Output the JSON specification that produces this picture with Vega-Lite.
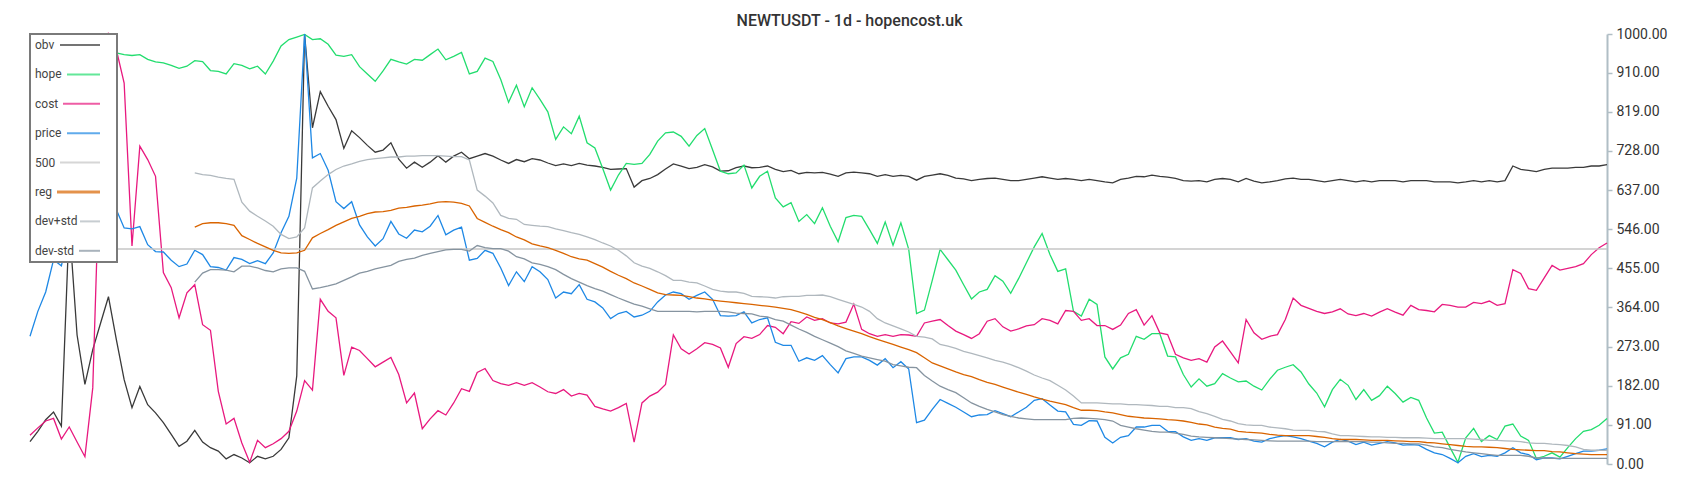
{
"$schema":"https://vega.github.io/schema/vega-lite/v6.json",
"width":1577,"height":430,
"autosize":{"type":"none"},
"padding":{"left":30,"top":34,"right":93,"bottom":36},
"background":"white",
"title":{"text":"NEWTUSDT - 1d - hopencost.uk","font":"Roboto","fontSize":16,"fontWeight":500,"color":"#333333","anchor":"middle","dx":31,"offset":-1.5},
"config":{"view":{"stroke":null},"font":"Roboto"},
"data":{"values":[
{"i":0,"obv":52,"hope":985,"cost":67,"price":297,"500":500},
{"i":1,"obv":76,"hope":990,"cost":84,"price":355,"500":500},
{"i":2,"obv":103,"hope":995,"cost":100,"price":400,"500":500},
{"i":3,"obv":121,"hope":985,"cost":106,"price":475,"500":500},
{"i":4,"obv":88,"hope":978,"cost":58,"price":461,"500":500},
{"i":5,"obv":560,"hope":985,"cost":86,"price":540,"500":500},
{"i":6,"obv":300,"hope":990,"cost":51,"price":600,"500":500},
{"i":7,"obv":185,"hope":982,"cost":17,"price":650,"500":500},
{"i":8,"obv":266,"hope":975,"cost":177,"price":690,"500":500},
{"i":9,"obv":328,"hope":968,"cost":770,"price":700,"500":500},
{"i":10,"obv":389,"hope":965,"cost":1000,"price":668,"500":500},
{"i":11,"obv":290,"hope":956,"cost":964,"price":592,"500":500},
{"i":12,"obv":196,"hope":952,"cost":886,"price":549,"500":500},
{"i":13,"obv":131,"hope":950,"cost":507,"price":547,"500":500},
{"i":14,"obv":180,"hope":952,"cost":739,"price":552,"500":500},
{"i":15,"obv":138,"hope":941,"cost":708,"price":510,"500":500},
{"i":16,"obv":119,"hope":935,"cost":669,"price":494,"500":500},
{"i":17,"obv":96,"hope":933,"cost":445,"price":493,"500":500},
{"i":18,"obv":69,"hope":927,"cost":410,"price":474,"500":500},
{"i":19,"obv":41,"hope":920,"cost":340,"price":459,"500":500},
{"i":20,"obv":53,"hope":925,"cost":398,"price":465,"500":500},
{"i":21,"obv":78,"hope":938,"cost":417,"price":497,"500":500,"reg":551,"dev+std":677,"dev-std":423},
{"i":22,"obv":51,"hope":936,"cost":324,"price":487,"500":500,"reg":559,"dev+std":673,"dev-std":444},
{"i":23,"obv":38,"hope":915,"cost":311,"price":459,"500":500,"reg":561,"dev+std":671,"dev-std":452},
{"i":24,"obv":30,"hope":913,"cost":169,"price":457,"500":500,"reg":561,"dev+std":667,"dev-std":452},
{"i":25,"obv":12,"hope":907,"cost":93,"price":451,"500":500,"reg":559,"dev+std":664,"dev-std":451},
{"i":26,"obv":22,"hope":931,"cost":106,"price":480,"500":500,"reg":555,"dev+std":662,"dev-std":447},
{"i":27,"obv":14,"hope":927,"cost":49,"price":476,"500":500,"reg":531,"dev+std":609,"dev-std":460},
{"i":28,"obv":3,"hope":919,"cost":4,"price":466,"500":500,"reg":522,"dev+std":588,"dev-std":460},
{"i":29,"obv":18,"hope":925,"cost":55,"price":473,"500":500,"reg":513,"dev+std":576,"dev-std":456},
{"i":30,"obv":12,"hope":907,"cost":38,"price":466,"500":500,"reg":505,"dev+std":565,"dev-std":450},
{"i":31,"obv":18,"hope":937,"cost":47,"price":491,"500":500,"reg":497,"dev+std":553,"dev-std":447},
{"i":32,"obv":34,"hope":972,"cost":59,"price":538,"500":500,"reg":491,"dev+std":534,"dev-std":454},
{"i":33,"obv":61,"hope":987,"cost":76,"price":576,"500":500,"reg":490,"dev+std":524,"dev-std":456},
{"i":34,"obv":205,"hope":993,"cost":123,"price":665,"500":500,"reg":491,"dev+std":528,"dev-std":456},
{"i":35,"obv":1000,"hope":999,"cost":194,"price":1000,"500":500,"reg":497,"dev+std":549,"dev-std":448},
{"i":36,"obv":782,"hope":987,"cost":172,"price":712,"500":500,"reg":526,"dev+std":642,"dev-std":407},
{"i":37,"obv":866,"hope":989,"cost":383,"price":722,"500":500,"reg":536,"dev+std":658,"dev-std":410},
{"i":38,"obv":832,"hope":976,"cost":355,"price":683,"500":500,"reg":545,"dev+std":673,"dev-std":414},
{"i":39,"obv":801,"hope":951,"cost":340,"price":610,"500":500,"reg":555,"dev+std":685,"dev-std":419},
{"i":40,"obv":734,"hope":948,"cost":206,"price":594,"500":500,"reg":563,"dev+std":693,"dev-std":427},
{"i":41,"obv":775,"hope":952,"cost":272,"price":610,"500":500,"reg":571,"dev+std":698,"dev-std":435},
{"i":42,"obv":759,"hope":924,"cost":264,"price":556,"500":500,"reg":576,"dev+std":704,"dev-std":444},
{"i":43,"obv":741,"hope":907,"cost":245,"price":528,"500":500,"reg":582,"dev+std":708,"dev-std":448},
{"i":44,"obv":725,"hope":890,"cost":226,"price":507,"500":500,"reg":586,"dev+std":710,"dev-std":454},
{"i":45,"obv":730,"hope":914,"cost":237,"price":524,"500":500,"reg":587,"dev+std":712,"dev-std":458},
{"i":46,"obv":747,"hope":941,"cost":248,"price":564,"500":500,"reg":590,"dev+std":714,"dev-std":462},
{"i":47,"obv":709,"hope":935,"cost":208,"price":535,"500":500,"reg":595,"dev+std":714,"dev-std":471},
{"i":48,"obv":688,"hope":930,"cost":142,"price":525,"500":500,"reg":597,"dev+std":716,"dev-std":476},
{"i":49,"obv":702,"hope":941,"cost":165,"price":544,"500":500,"reg":600,"dev+std":716,"dev-std":479},
{"i":50,"obv":690,"hope":939,"cost":82,"price":540,"500":500,"reg":602,"dev+std":717,"dev-std":485},
{"i":51,"obv":702,"hope":952,"cost":105,"price":553,"500":500,"reg":605,"dev+std":717,"dev-std":490},
{"i":52,"obv":717,"hope":965,"cost":124,"price":578,"500":500,"reg":609,"dev+std":717,"dev-std":494},
{"i":53,"obv":702,"hope":940,"cost":114,"price":533,"500":500,"reg":610,"dev+std":716,"dev-std":498},
{"i":54,"obv":716,"hope":948,"cost":142,"price":544,"500":500,"reg":609,"dev+std":715,"dev-std":499},
{"i":55,"obv":725,"hope":957,"cost":175,"price":551,"500":500,"reg":606,"dev+std":715,"dev-std":499},
{"i":56,"obv":710,"hope":907,"cost":169,"price":474,"500":500,"reg":600,"dev+std":707,"dev-std":495},
{"i":57,"obv":716,"hope":913,"cost":213,"price":478,"500":500,"reg":571,"dev+std":637,"dev-std":508},
{"i":58,"obv":722,"hope":944,"cost":222,"price":497,"500":500,"reg":562,"dev+std":623,"dev-std":503},
{"i":59,"obv":716,"hope":936,"cost":194,"price":490,"500":500,"reg":553,"dev+std":607,"dev-std":501},
{"i":60,"obv":707,"hope":894,"cost":187,"price":456,"500":500,"reg":545,"dev+std":578,"dev-std":501},
{"i":61,"obv":699,"hope":841,"cost":183,"price":415,"500":500,"reg":538,"dev+std":571,"dev-std":495},
{"i":62,"obv":708,"hope":881,"cost":189,"price":447,"500":500,"reg":528,"dev+std":569,"dev-std":482},
{"i":63,"obv":703,"hope":831,"cost":183,"price":424,"500":500,"reg":521,"dev+std":557,"dev-std":477},
{"i":64,"obv":710,"hope":875,"cost":189,"price":459,"500":500,"reg":512,"dev+std":555,"dev-std":468},
{"i":65,"obv":707,"hope":848,"cost":179,"price":447,"500":500,"reg":507,"dev+std":553,"dev-std":464},
{"i":66,"obv":700,"hope":819,"cost":168,"price":429,"500":500,"reg":503,"dev+std":552,"dev-std":459},
{"i":67,"obv":694,"hope":755,"cost":164,"price":386,"500":500,"reg":497,"dev+std":547,"dev-std":452},
{"i":68,"obv":698,"hope":784,"cost":173,"price":400,"500":500,"reg":490,"dev+std":543,"dev-std":441},
{"i":69,"obv":694,"hope":768,"cost":158,"price":396,"500":500,"reg":482,"dev+std":538,"dev-std":431},
{"i":70,"obv":699,"hope":809,"cost":164,"price":417,"500":500,"reg":477,"dev+std":534,"dev-std":423},
{"i":71,"obv":695,"hope":747,"cost":160,"price":383,"500":500,"reg":474,"dev+std":528,"dev-std":415},
{"i":72,"obv":693,"hope":735,"cost":134,"price":377,"500":500,"reg":466,"dev+std":522,"dev-std":408},
{"i":73,"obv":690,"hope":687,"cost":128,"price":363,"500":500,"reg":458,"dev+std":514,"dev-std":402},
{"i":74,"obv":685,"hope":637,"cost":123,"price":338,"500":500,"reg":448,"dev+std":507,"dev-std":394},
{"i":75,"obv":686,"hope":672,"cost":131,"price":350,"500":500,"reg":439,"dev+std":497,"dev-std":386},
{"i":76,"obv":687,"hope":699,"cost":141,"price":355,"500":500,"reg":431,"dev+std":484,"dev-std":379},
{"i":77,"obv":644,"hope":697,"cost":51,"price":342,"500":500,"reg":421,"dev+std":468,"dev-std":372},
{"i":78,"obv":659,"hope":699,"cost":142,"price":346,"500":500,"reg":414,"dev+std":460,"dev-std":367},
{"i":79,"obv":664,"hope":720,"cost":158,"price":355,"500":500,"reg":406,"dev+std":455,"dev-std":361},
{"i":80,"obv":673,"hope":751,"cost":167,"price":377,"500":500,"reg":398,"dev+std":447,"dev-std":355},
{"i":81,"obv":686,"hope":770,"cost":185,"price":393,"500":500,"reg":394,"dev+std":438,"dev-std":355},
{"i":82,"obv":698,"hope":772,"cost":300,"price":400,"500":500,"reg":393,"dev+std":427,"dev-std":355},
{"i":83,"obv":693,"hope":762,"cost":268,"price":396,"500":500,"reg":392,"dev+std":427,"dev-std":355},
{"i":84,"obv":687,"hope":739,"cost":256,"price":383,"500":500,"reg":389,"dev+std":423,"dev-std":355},
{"i":85,"obv":690,"hope":764,"cost":268,"price":392,"500":500,"reg":386,"dev+std":421,"dev-std":354},
{"i":86,"obv":696,"hope":780,"cost":282,"price":400,"500":500,"reg":384,"dev+std":414,"dev-std":355},
{"i":87,"obv":691,"hope":731,"cost":278,"price":383,"500":500,"reg":381,"dev+std":406,"dev-std":355},
{"i":88,"obv":681,"hope":681,"cost":270,"price":345,"500":500,"reg":379,"dev+std":402,"dev-std":355},
{"i":89,"obv":682,"hope":675,"cost":225,"price":344,"500":500,"reg":377,"dev+std":400,"dev-std":354},
{"i":90,"obv":689,"hope":677,"cost":280,"price":345,"500":500,"reg":375,"dev+std":400,"dev-std":351},
{"i":91,"obv":693,"hope":695,"cost":296,"price":354,"500":500,"reg":373,"dev+std":397,"dev-std":350},
{"i":92,"obv":689,"hope":642,"cost":292,"price":328,"500":500,"reg":371,"dev+std":390,"dev-std":349},
{"i":93,"obv":690,"hope":669,"cost":301,"price":336,"500":500,"reg":369,"dev+std":389,"dev-std":344},
{"i":94,"obv":693,"hope":681,"cost":322,"price":340,"500":500,"reg":367,"dev+std":388,"dev-std":342},
{"i":95,"obv":685,"hope":619,"cost":318,"price":283,"500":500,"reg":365,"dev+std":386,"dev-std":336},
{"i":96,"obv":680,"hope":598,"cost":303,"price":276,"500":500,"reg":362,"dev+std":389,"dev-std":332},
{"i":97,"obv":683,"hope":608,"cost":331,"price":276,"500":500,"reg":359,"dev+std":390,"dev-std":323},
{"i":98,"obv":675,"hope":564,"cost":327,"price":239,"500":500,"reg":354,"dev+std":390,"dev-std":314},
{"i":99,"obv":678,"hope":580,"cost":342,"price":247,"500":500,"reg":348,"dev+std":392,"dev-std":306},
{"i":100,"obv":677,"hope":559,"cost":334,"price":241,"500":500,"reg":341,"dev+std":392,"dev-std":297},
{"i":101,"obv":678,"hope":596,"cost":338,"price":252,"500":500,"reg":336,"dev+std":393,"dev-std":289},
{"i":102,"obv":674,"hope":553,"cost":328,"price":231,"500":500,"reg":329,"dev+std":389,"dev-std":281},
{"i":103,"obv":669,"hope":517,"cost":326,"price":212,"500":500,"reg":321,"dev+std":383,"dev-std":273},
{"i":104,"obv":677,"hope":573,"cost":330,"price":245,"500":500,"reg":315,"dev+std":377,"dev-std":263},
{"i":105,"obv":679,"hope":578,"cost":372,"price":249,"500":500,"reg":309,"dev+std":371,"dev-std":257},
{"i":106,"obv":677,"hope":576,"cost":313,"price":249,"500":500,"reg":303,"dev+std":365,"dev-std":251},
{"i":107,"obv":675,"hope":545,"cost":303,"price":241,"500":500,"reg":296,"dev+std":355,"dev-std":247},
{"i":108,"obv":669,"hope":513,"cost":297,"price":230,"500":500,"reg":290,"dev+std":338,"dev-std":243},
{"i":109,"obv":673,"hope":563,"cost":301,"price":245,"500":500,"reg":284,"dev+std":328,"dev-std":239},
{"i":110,"obv":669,"hope":509,"cost":297,"price":224,"500":500,"reg":278,"dev+std":321,"dev-std":231},
{"i":111,"obv":671,"hope":561,"cost":301,"price":238,"500":500,"reg":272,"dev+std":314,"dev-std":228},
{"i":112,"obv":669,"hope":499,"cost":300,"price":221,"500":500,"reg":266,"dev+std":307,"dev-std":225},
{"i":113,"obv":660,"hope":350,"cost":297,"price":96,"500":500,"reg":259,"dev+std":297,"dev-std":224},
{"i":114,"obv":669,"hope":358,"cost":328,"price":102,"500":500,"reg":247,"dev+std":295,"dev-std":206},
{"i":115,"obv":672,"hope":427,"cost":332,"price":127,"500":500,"reg":235,"dev+std":291,"dev-std":193},
{"i":116,"obv":675,"hope":499,"cost":336,"price":150,"500":500,"reg":228,"dev+std":278,"dev-std":181},
{"i":117,"obv":671,"hope":475,"cost":322,"price":141,"500":500,"reg":221,"dev+std":274,"dev-std":173},
{"i":118,"obv":665,"hope":451,"cost":309,"price":132,"500":500,"reg":214,"dev+std":269,"dev-std":166},
{"i":119,"obv":663,"hope":417,"cost":301,"price":121,"500":500,"reg":208,"dev+std":262,"dev-std":154},
{"i":120,"obv":659,"hope":384,"cost":292,"price":110,"500":500,"reg":203,"dev+std":257,"dev-std":142},
{"i":121,"obv":662,"hope":400,"cost":303,"price":114,"500":500,"reg":196,"dev+std":252,"dev-std":134},
{"i":122,"obv":664,"hope":406,"cost":332,"price":115,"500":500,"reg":190,"dev+std":247,"dev-std":127},
{"i":123,"obv":665,"hope":438,"cost":338,"price":124,"500":500,"reg":185,"dev+std":241,"dev-std":121},
{"i":124,"obv":662,"hope":425,"cost":319,"price":117,"500":500,"reg":179,"dev+std":237,"dev-std":115},
{"i":125,"obv":659,"hope":397,"cost":309,"price":110,"500":500,"reg":173,"dev+std":231,"dev-std":111},
{"i":126,"obv":659,"hope":431,"cost":314,"price":121,"500":500,"reg":167,"dev+std":224,"dev-std":107},
{"i":127,"obv":662,"hope":468,"cost":321,"price":132,"500":500,"reg":162,"dev+std":216,"dev-std":105},
{"i":128,"obv":665,"hope":505,"cost":324,"price":148,"500":500,"reg":156,"dev+std":207,"dev-std":103},
{"i":129,"obv":668,"hope":536,"cost":338,"price":152,"500":500,"reg":151,"dev+std":200,"dev-std":103},
{"i":130,"obv":665,"hope":487,"cost":334,"price":137,"500":500,"reg":146,"dev+std":194,"dev-std":103},
{"i":131,"obv":662,"hope":448,"cost":326,"price":123,"500":500,"reg":142,"dev+std":183,"dev-std":103},
{"i":132,"obv":664,"hope":454,"cost":357,"price":121,"500":500,"reg":138,"dev+std":172,"dev-std":103},
{"i":133,"obv":662,"hope":355,"cost":355,"price":92,"500":500,"reg":131,"dev+std":158,"dev-std":106},
{"i":134,"obv":659,"hope":344,"cost":334,"price":90,"500":500,"reg":125,"dev+std":142,"dev-std":107},
{"i":135,"obv":662,"hope":383,"cost":338,"price":101,"500":500,"reg":125,"dev+std":142,"dev-std":106},
{"i":136,"obv":659,"hope":371,"cost":322,"price":100,"500":500,"reg":124,"dev+std":142,"dev-std":105},
{"i":137,"obv":656,"hope":249,"cost":322,"price":62,"500":500,"reg":121,"dev+std":141,"dev-std":103},
{"i":138,"obv":654,"hope":221,"cost":313,"price":49,"500":500,"reg":119,"dev+std":140,"dev-std":100},
{"i":139,"obv":662,"hope":247,"cost":323,"price":62,"500":500,"reg":115,"dev+std":140,"dev-std":90},
{"i":140,"obv":665,"hope":255,"cost":350,"price":66,"500":500,"reg":111,"dev+std":138,"dev-std":86},
{"i":141,"obv":669,"hope":297,"cost":359,"price":86,"500":500,"reg":109,"dev+std":138,"dev-std":82},
{"i":142,"obv":668,"hope":290,"cost":323,"price":86,"500":500,"reg":107,"dev+std":137,"dev-std":79},
{"i":143,"obv":672,"hope":303,"cost":345,"price":90,"500":500,"reg":106,"dev+std":136,"dev-std":76},
{"i":144,"obv":669,"hope":303,"cost":305,"price":90,"500":500,"reg":105,"dev+std":134,"dev-std":74},
{"i":145,"obv":667,"hope":251,"cost":301,"price":76,"500":500,"reg":103,"dev+std":134,"dev-std":74},
{"i":146,"obv":664,"hope":249,"cost":255,"price":75,"500":500,"reg":102,"dev+std":131,"dev-std":72},
{"i":147,"obv":659,"hope":208,"cost":247,"price":63,"500":500,"reg":100,"dev+std":131,"dev-std":69},
{"i":148,"obv":658,"hope":179,"cost":241,"price":55,"500":500,"reg":97,"dev+std":129,"dev-std":65},
{"i":149,"obv":659,"hope":198,"cost":245,"price":59,"500":500,"reg":93,"dev+std":122,"dev-std":63},
{"i":150,"obv":656,"hope":181,"cost":237,"price":55,"500":500,"reg":91,"dev+std":117,"dev-std":62},
{"i":151,"obv":662,"hope":187,"cost":272,"price":61,"500":500,"reg":86,"dev+std":111,"dev-std":61},
{"i":152,"obv":664,"hope":210,"cost":286,"price":61,"500":500,"reg":83,"dev+std":104,"dev-std":60},
{"i":153,"obv":662,"hope":200,"cost":261,"price":61,"500":500,"reg":81,"dev+std":100,"dev-std":59},
{"i":154,"obv":656,"hope":191,"cost":235,"price":57,"500":500,"reg":76,"dev+std":94,"dev-std":58},
{"i":155,"obv":664,"hope":193,"cost":336,"price":59,"500":500,"reg":74,"dev+std":91,"dev-std":57},
{"i":156,"obv":658,"hope":181,"cost":305,"price":53,"500":500,"reg":73,"dev+std":90,"dev-std":56},
{"i":157,"obv":654,"hope":172,"cost":290,"price":51,"500":500,"reg":72,"dev+std":90,"dev-std":55},
{"i":158,"obv":656,"hope":197,"cost":297,"price":59,"500":500,"reg":69,"dev+std":86,"dev-std":54},
{"i":159,"obv":659,"hope":218,"cost":301,"price":63,"500":500,"reg":67,"dev+std":84,"dev-std":53},
{"i":160,"obv":663,"hope":225,"cost":336,"price":66,"500":500,"reg":66,"dev+std":82,"dev-std":53},
{"i":161,"obv":665,"hope":231,"cost":386,"price":63,"500":500,"reg":66,"dev+std":79,"dev-std":53},
{"i":162,"obv":662,"hope":214,"cost":369,"price":59,"500":500,"reg":66,"dev+std":78,"dev-std":53},
{"i":163,"obv":662,"hope":186,"cost":362,"price":53,"500":500,"reg":66,"dev+std":78,"dev-std":53},
{"i":164,"obv":659,"hope":165,"cost":355,"price":48,"500":500,"reg":64,"dev+std":76,"dev-std":52},
{"i":165,"obv":656,"hope":133,"cost":350,"price":40,"500":500,"reg":62,"dev+std":75,"dev-std":52},
{"i":166,"obv":659,"hope":173,"cost":354,"price":51,"500":500,"reg":59,"dev+std":70,"dev-std":52},
{"i":167,"obv":662,"hope":197,"cost":361,"price":57,"500":500,"reg":57,"dev+std":66,"dev-std":52},
{"i":168,"obv":659,"hope":183,"cost":349,"price":53,"500":500,"reg":57,"dev+std":66,"dev-std":52},
{"i":169,"obv":656,"hope":150,"cost":345,"price":45,"500":500,"reg":57,"dev+std":65,"dev-std":52},
{"i":170,"obv":659,"hope":173,"cost":350,"price":51,"500":500,"reg":56,"dev+std":64,"dev-std":52},
{"i":171,"obv":656,"hope":148,"cost":344,"price":44,"500":500,"reg":55,"dev+std":63,"dev-std":51},
{"i":172,"obv":659,"hope":159,"cost":353,"price":48,"500":500,"reg":55,"dev+std":63,"dev-std":51},
{"i":173,"obv":659,"hope":181,"cost":361,"price":52,"500":500,"reg":55,"dev+std":62,"dev-std":49},
{"i":174,"obv":659,"hope":164,"cost":353,"price":49,"500":500,"reg":54,"dev+std":62,"dev-std":48},
{"i":175,"obv":656,"hope":144,"cost":346,"price":44,"500":500,"reg":53,"dev+std":61,"dev-std":48},
{"i":176,"obv":659,"hope":155,"cost":369,"price":45,"500":500,"reg":52,"dev+std":61,"dev-std":47},
{"i":177,"obv":659,"hope":148,"cost":359,"price":44,"500":500,"reg":52,"dev+std":61,"dev-std":47},
{"i":178,"obv":659,"hope":107,"cost":357,"price":34,"500":500,"reg":50,"dev+std":60,"dev-std":44},
{"i":179,"obv":656,"hope":72,"cost":354,"price":26,"500":500,"reg":49,"dev+std":59,"dev-std":40},
{"i":180,"obv":656,"hope":74,"cost":371,"price":22,"500":500,"reg":47,"dev+std":59,"dev-std":38},
{"i":181,"obv":656,"hope":38,"cost":369,"price":13,"500":500,"reg":45,"dev+std":59,"dev-std":34},
{"i":182,"obv":654,"hope":4,"cost":365,"price":3,"500":500,"reg":43,"dev+std":59,"dev-std":31},
{"i":183,"obv":656,"hope":61,"cost":365,"price":18,"500":500,"reg":41,"dev+std":59,"dev-std":28},
{"i":184,"obv":659,"hope":83,"cost":376,"price":24,"500":500,"reg":40,"dev+std":58,"dev-std":26},
{"i":185,"obv":656,"hope":52,"cost":373,"price":17,"500":500,"reg":40,"dev+std":57,"dev-std":24},
{"i":186,"obv":659,"hope":66,"cost":379,"price":20,"500":500,"reg":39,"dev+std":55,"dev-std":22},
{"i":187,"obv":656,"hope":57,"cost":369,"price":18,"500":500,"reg":38,"dev+std":55,"dev-std":20},
{"i":188,"obv":659,"hope":88,"cost":373,"price":26,"500":500,"reg":36,"dev+std":54,"dev-std":20},
{"i":189,"obv":693,"hope":93,"cost":452,"price":38,"500":500,"reg":34,"dev+std":53,"dev-std":20},
{"i":190,"obv":685,"hope":65,"cost":443,"price":26,"500":500,"reg":33,"dev+std":52,"dev-std":20},
{"i":191,"obv":683,"hope":55,"cost":408,"price":22,"500":500,"reg":32,"dev+std":49,"dev-std":18},
{"i":192,"obv":680,"hope":13,"cost":404,"price":10,"500":500,"reg":31,"dev+std":48,"dev-std":14},
{"i":193,"obv":685,"hope":18,"cost":433,"price":14,"500":500,"reg":31,"dev+std":48,"dev-std":14},
{"i":194,"obv":688,"hope":26,"cost":462,"price":14,"500":500,"reg":29,"dev+std":46,"dev-std":13},
{"i":195,"obv":688,"hope":16,"cost":451,"price":12,"500":500,"reg":28,"dev+std":45,"dev-std":13},
{"i":196,"obv":688,"hope":38,"cost":455,"price":18,"500":500,"reg":26,"dev+std":43,"dev-std":13},
{"i":197,"obv":690,"hope":59,"cost":459,"price":24,"500":500,"reg":24,"dev+std":40,"dev-std":13},
{"i":198,"obv":690,"hope":76,"cost":466,"price":30,"500":500,"reg":23,"dev+std":34,"dev-std":13},
{"i":199,"obv":693,"hope":80,"cost":487,"price":30,"500":500,"reg":22,"dev+std":32,"dev-std":13},
{"i":200,"obv":693,"hope":90,"cost":503,"price":32,"500":500,"reg":22,"dev+std":32,"dev-std":13},
{"i":201,"obv":696,"hope":106,"cost":514,"price":35,"500":500,"reg":22,"dev+std":32,"dev-std":13}
]},
"transform":[{"fold":["obv","hope","cost","price","500","reg","dev+std","dev-std"],"as":["series","v"]}],
"mark":{"type":"line","strokeWidth":1.3},
"encoding":{
"x":{"field":"i","type":"quantitative","scale":{"domain":[0,201],"nice":false,"zero":false},"axis":null},
"y":{"field":"v","type":"quantitative","scale":{"domain":[0,1000],"nice":false},
"axis":{"orient":"right","title":null,"grid":false,"values":[0,91,182,273,364,455,546,637,728,819,910,1000],"format":".2f","domainColor":"#b0bec5","domainWidth":2,"tickColor":"#b0bec5","tickWidth":1.5,"tickSize":5,"labelFont":"Roboto","labelFontSize":14,"labelColor":"#333333","labelPadding":4}},
"color":{"field":"series","type":"nominal",
"scale":{"domain":["obv","hope","cost","price","500","reg","dev+std","dev-std"],"range":["#3a3a3a","#22dd6e","#e8197f","#1e88e5","#c6c6c6","#d96400","#b0b8be","#8694a0"]},
"legend":{"orient":"none","legendX":0,"legendY":0,"title":null,"fillColor":"white","strokeColor":"#7a7a7a","padding":5,
"labelFont":"Roboto","labelFontSize":12,"labelColor":"#444444","symbolType":"stroke","symbolSize":16,"symbolStrokeWidth":2,"symbolOpacity":0.7,
"symbolOffset":0,"labelOffset":-12,"rowPadding":17.4,
"encode":{"legend":{"update":{"strokeWidth":{"value":2}}},
"symbols":{"update":{"shape":{"signal":"datum.value === 'obv' ? 'M-3,0M9.5,0H29.5M32.5,0' : datum.value === 'hope' ? 'M-3,0M13,0H29.5M32.5,0' : datum.value === 'cost' ? 'M-3,0M11,0H29.5M32.5,0' : datum.value === 'price' ? 'M-3,0M13,0H29.5M32.5,0' : datum.value === '500' ? 'M-3,0M9.5,0H29.5M32.5,0' : datum.value === 'reg' ? 'M-3,0M8,0H29.5M32.5,0' : datum.value === 'dev+std' ? 'M-3,0M19.5,0H29.5M32.5,0' : 'M-3,0M19,0H29.5M32.5,0'"},"strokeWidth":{"signal":"datum.value === 'reg' ? 3 : 2"}}}}}},
"strokeWidth":{"condition":[{"test":"datum.series === 'reg'","value":3},{"test":"datum.series === '500'","value":2}],"value":1.3}
}
}
